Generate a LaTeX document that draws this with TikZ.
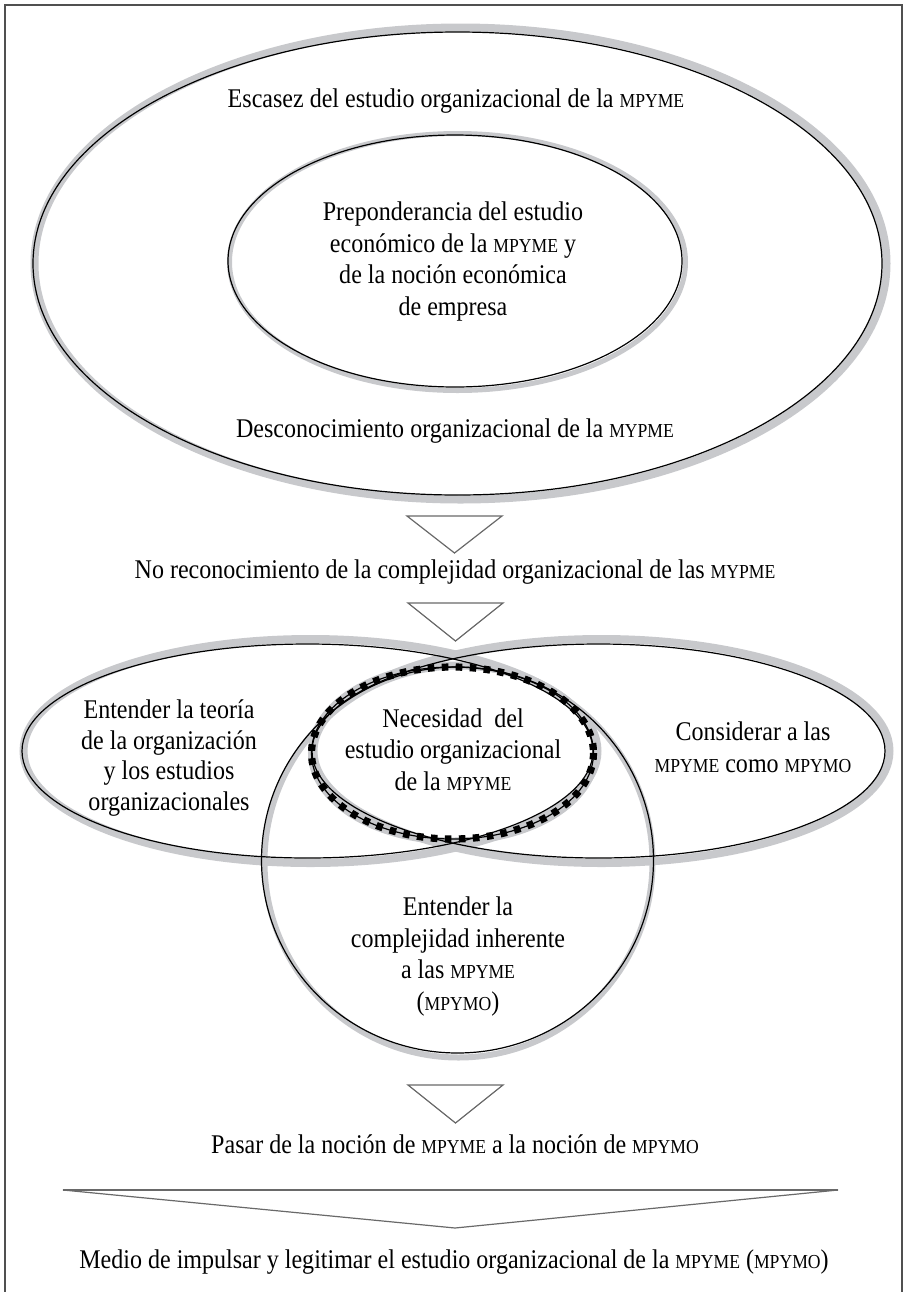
\documentclass[tikz,border=0pt]{standalone}
\usepackage{fontspec}
\setmainfont{Liberation Serif}[FakeStretch=0.89]
\definecolor{bandgray}{RGB}{200,201,204}
\definecolor{trigray}{RGB}{105,105,105}
\definecolor{framegray}{RGB}{80,80,80}
\newcommand\smc[1]{{\fontsize{9.9pt}{9.9pt}\selectfont #1}}
\tikzset{
  greyband/.style={draw=bandgray, line width=#1},
  greyband/.default=3.5pt,
  blackedge/.style={draw=black, line width=0.6pt},
  dotsq/.style={draw=black, line width=3.6pt, dash pattern=on 3.3pt off 3.7pt},
  tri/.style={draw=trigray, line width=0.6pt, fill=white, line join=miter},
  txt/.style={anchor=base, inner sep=0pt, font=\fontsize{13.5pt}{15.85pt}\selectfont},
  framestyle/.style={draw=framegray, line width=0.65pt}
}
\begin{document}
\begin{tikzpicture}[x=0.5pt, y=-0.5pt]
\useasboundingbox (0,0) rectangle (907,1292);
% frame
\draw[framestyle] (5,1300) -- (5,5) -- (902,5) -- (902,1300);

% ---------- grey bands ----------
\draw[greyband=4pt] (460.5,263.5) ellipse [x radius=426, y radius=236];
\draw[greyband=2.5pt] (457.5,262) ellipse [x radius=228, y radius=128.5];
\draw[greyband=4pt] (310.5,751) ellipse [x radius=287, y radius=112];
\draw[greyband=4pt] (601.5,751) ellipse [x radius=288, y radius=112];
\draw[greyband=3pt] (458.5,862) ellipse [x radius=194, y radius=195.5];
\draw[greyband=3.5pt] (453.5,753) ellipse [x radius=142, y radius=88];

% ---------- black outlines ----------
\draw[blackedge] (457.5,263.5) ellipse [x radius=424.5, y radius=231.5];
\draw[blackedge] (455,261) ellipse [x radius=227, y radius=126];
\draw[blackedge] (307.5,751) ellipse [x radius=285.5, y radius=107];
\draw[blackedge] (598.5,751) ellipse [x radius=286.5, y radius=107];
\draw[blackedge] (457.5,860) ellipse [x radius=196, y radius=193];
\draw[blackedge] (452.5,753) ellipse [x radius=141, y radius=86];
\draw[dotsq] (452.5,753) ellipse [x radius=141, y radius=86];

% ---------- triangles ----------
\draw[tri] (407,516) -- (502,516) -- (454.5,553) -- cycle;
\draw[tri] (408,603) -- (503,603) -- (455.5,641) -- cycle;
\draw[tri] (408,1085) -- (503,1085) -- (455.5,1123) -- cycle;
\draw[tri] (63,1190) -- (838,1190) -- (455,1228) -- cycle;
\draw[draw=trigray, line width=1.1pt] (63,1190) -- (838,1190);

% ---------- texts ----------
\node[txt] (escasez) at (456,107) {Escasez del estudio organizacional de la \smc{MPYME}};

\node[txt] (prep1) at (453,220) {Preponderancia del estudio};
\node[txt] (prep2) at (453,252) {económico de la \smc{MPYME} y};
\node[txt] (prep3) at (453,283) {de la noción económica};
\node[txt] (prep4) at (453,315) {de empresa};

\node[txt] (descon) at (455,437) {Desconocimiento organizacional de la \smc{MYPME}};

\node[txt] (norec) at (455,578) {No reconocimiento de la complejidad organizacional de las \smc{MYPME}};

\node[txt] (ent1) at (169,718) {Entender la teoría};
\node[txt] (ent2) at (169,749) {de la organización};
\node[txt] (ent3) at (169,779) {y los estudios};
\node[txt] (ent4) at (169,810) {organizacionales};

\node[txt] (nec1) at (453,727) {Necesidad~ del};
\node[txt] (nec2) at (453,758) {estudio organizacional};
\node[txt] (nec3) at (453,790) {de la \smc{MPYME}};

\node[txt] (cons1) at (753,740) {Considerar a las};
\node[txt] (cons2) at (753,772) {\smc{MPYME} como \smc{MPYMO}};

\node[txt] (comp1) at (458,915) {Entender la};
\node[txt] (comp2) at (458,947) {complejidad inherente};
\node[txt] (comp3) at (458,978) {a las \smc{MPYME}};
\node[txt] (comp4) at (458,1010) {(\smc{MPYMO})};

\node[txt] (pasar) at (455,1153) {Pasar de la noción de \smc{MPYME} a la noción de \smc{MPYMO}};

\node[txt] (medio) at (454,1268) {Medio de impulsar y legitimar el estudio organizacional de la \smc{MPYME} (\smc{MPYMO})};
\end{tikzpicture}
\end{document}
